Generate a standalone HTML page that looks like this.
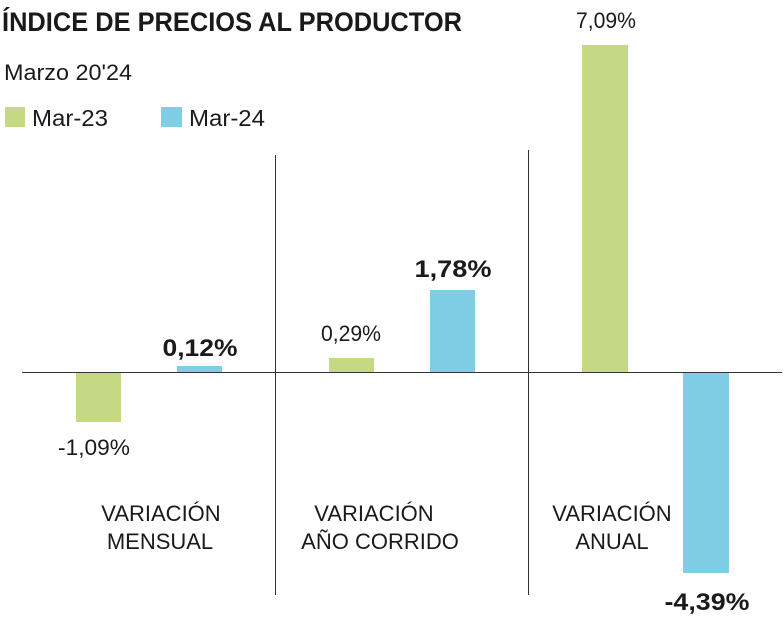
<!DOCTYPE html>
<html><head><meta charset="utf-8"><style>
html,body{margin:0;padding:0;background:#fff;width:784px;height:632px;overflow:hidden}
svg{display:block}
text{font-family:"Liberation Sans",sans-serif;fill:#1a1a1a}
</style></head><body>
<svg width="784" height="632" viewBox="0 0 784 632" xmlns="http://www.w3.org/2000/svg">
<text x="2" y="31" font-size="27" font-weight="bold" textLength="460" lengthAdjust="spacingAndGlyphs">ÍNDICE DE PRECIOS AL PRODUCTOR</text>
<text x="4" y="80" font-size="22" textLength="128" lengthAdjust="spacingAndGlyphs">Marzo 20'24</text>
<rect x="5" y="107" width="20" height="20" fill="#c5d985"/>
<text x="32" y="126" font-size="23" textLength="76" lengthAdjust="spacingAndGlyphs">Mar-23</text>
<rect x="161" y="107" width="21" height="20" fill="#7fcee5"/>
<text x="189" y="126" font-size="23" textLength="76" lengthAdjust="spacingAndGlyphs">Mar-24</text>

<line x1="275.5" y1="155" x2="275.5" y2="595" stroke="#333" stroke-width="1"/>
<line x1="528.5" y1="150" x2="528.5" y2="595" stroke="#333" stroke-width="1"/>

<rect x="76" y="372" width="45" height="50" fill="#c5d985"/>
<rect x="177" y="366" width="45" height="6" fill="#7fcee5"/>
<rect x="329" y="358" width="45" height="14" fill="#c5d985"/>
<rect x="430" y="290" width="45" height="82" fill="#7fcee5"/>
<rect x="582" y="45" width="46" height="327" fill="#c5d985"/>
<rect x="683" y="372" width="46" height="201" fill="#7fcee5"/>
<line x1="22" y1="372.5" x2="782" y2="372.5" stroke="#333" stroke-width="1"/>

<g font-size="22" text-anchor="middle">
<text x="94" y="455" textLength="72" lengthAdjust="spacingAndGlyphs">-1,09%</text>
<text x="351" y="341" textLength="60" lengthAdjust="spacingAndGlyphs">0,29%</text>
<text x="606" y="28" textLength="60" lengthAdjust="spacingAndGlyphs">7,09%</text>
</g>
<g font-size="24" font-weight="bold" text-anchor="middle">
<text x="200" y="356" textLength="75" lengthAdjust="spacingAndGlyphs">0,12%</text>
<text x="453" y="277" textLength="77" lengthAdjust="spacingAndGlyphs">1,78%</text>
<text x="707" y="610" textLength="85" lengthAdjust="spacingAndGlyphs">-4,39%</text>
</g>
<g font-size="22" text-anchor="middle">
<text x="161" y="521">VARIACIÓN</text>
<text x="160" y="549">MENSUAL</text>
<text x="374" y="521">VARIACIÓN</text>
<text x="380" y="549">AÑO CORRIDO</text>
<text x="612" y="521">VARIACIÓN</text>
<text x="612" y="549">ANUAL</text>
</g>
</svg>
</body></html>
